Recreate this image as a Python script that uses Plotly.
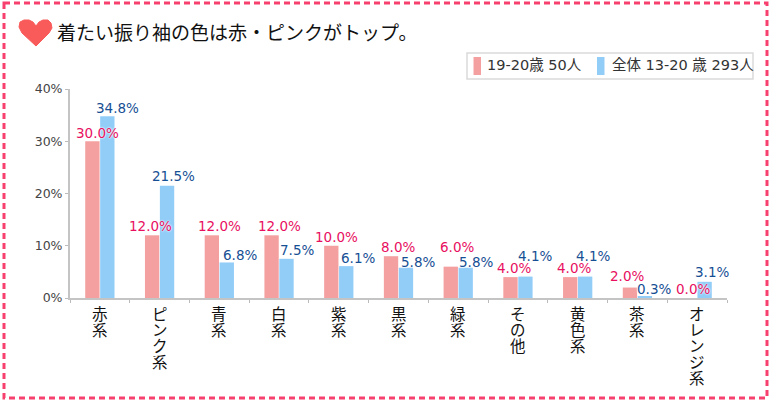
import plotly.graph_objects as go

title = "着たい振り袖の色は赤・ピンクがトップ。"
categories = ["赤系", "ピンク系", "青系", "白系", "紫系", "黒系", "緑系", "その他", "黄色系", "茶系", "オレンジ系"]
series_a_name = "19-20歳 50人"
series_b_name = "全体 13-20 歳 293人"
series_a = [30.0, 12.0, 12.0, 12.0, 10.0, 8.0, 6.0, 4.0, 4.0, 2.0, 0.0]
series_b = [34.8, 21.5, 6.8, 7.5, 6.1, 5.8, 5.8, 4.1, 4.1, 0.3, 3.1]
y_ticks = [0, 10, 20, 30, 40]

W, H = 770, 401
L, R, T, B = 70, 727, 89, 298
PINK, BLUE = "#F4A0A0", "#92CDF8"
CJK = "Noto Sans CJK JP"
LATIN = "DejaVu Sans, Noto Sans CJK JP"


def px(x):
    return (x - L) / (R - L)


def py(y):
    return (B - y) / (B - T)


# label nudges relative to the category centre (pixels)
a_dx = [-2, -9, 0, 0, -2, -1, -1, -4, -4, -10, -4]
b_dx = [18, 14, 21, 18, 19, 19, 18, 17, 15, 17, 15]
a_dy = [8, 9, 9, 9, 9, 9, 20, 9, 9, 12, 9]
b_dy = [8, 10, 7, 9, 8, 6, 6, 21, 21, 7, 10]

fig = go.Figure()
for name, vals, col in ((series_a_name, series_a, PINK), (series_b_name, series_b, BLUE)):
    fig.add_bar(x=categories, y=vals, name=name, marker=dict(color=col, line=dict(width=0)))

ann = []
for i, c in enumerate(categories):
    for vals, dx, dy, col in ((series_a, a_dx, a_dy, "#E8105F"), (series_b, b_dx, b_dy, "#164F94")):
        ann.append(dict(x=c, y=vals[i], xref="x", yref="y", xshift=dx[i], yshift=dy[i],
                        text=f"{vals[i]:.1f}%", showarrow=False, xanchor="center", yanchor="middle",
                        font=dict(family=LATIN, size=13.5, color=col, shadow="0 0 2px white, 0 0 2px white"),
                        ))
    for j, ch in enumerate(c):
        ann.append(dict(x=c, y=0, xref="x", yref="y", yshift=-(14 + 16 * j) - 1, text=ch, showarrow=False,
                        xanchor="center", yanchor="middle", font=dict(family=CJK, size=15.5, color="#111")))

# legend
ann.append(dict(x=px(484.5), y=py(65.5), xref="paper", yref="paper", text=series_a_name, showarrow=False,
                xanchor="left", yanchor="middle", font=dict(family=LATIN, size=14.5, color="#333")))
ann.append(dict(x=px(609.5), y=py(65.5), xref="paper", yref="paper", text=series_b_name, showarrow=False,
                xanchor="left", yanchor="middle", font=dict(family=LATIN, size=14.5, color="#333")))


def rect(x0, y0, x1, y1, **kw):
    return dict(type="rect", xref="paper", yref="paper", x0=px(x0), x1=px(x1), y0=py(y0), y1=py(y1), **kw)


heart_pts = [(36, 46), (22, 33), (19, 27), (20, 22), (24, 20), (29, 20), (33, 22), (36, 26), (39, 22), (43, 20),
             (48, 20), (51, 23), (52, 28), (49, 33)]
heart = "M" + " L".join(f"{px(a):.5f},{py(b):.5f}" for a, b in heart_pts) + " Z"

shapes = [
    rect(4, 3, 767, 398, line=dict(color="#F8406E", width=3, dash="6px,4px"), fillcolor="rgba(0,0,0,0)", layer="below"),
    rect(467, 53, 753, 79, line=dict(color="#DADADA", width=1.5), fillcolor="white"),
    rect(473.5, 57, 481, 75, line=dict(width=0), fillcolor=PINK),
    rect(597, 57, 604.5, 75, line=dict(width=0), fillcolor=BLUE),
    dict(type="path", xref="paper", yref="paper", path=heart, fillcolor="#F95B5B", line=dict(color="#F95B5B", width=1)),
]

fig.update_layout(
    width=W, height=H,
    margin=dict(l=L, r=W - R, t=T, b=H - B, pad=0),
    paper_bgcolor="white", plot_bgcolor="white",
    showlegend=False,
    barmode="group", bargap=0.5, bargroupgap=0.04,
    title=dict(text=title, x=57 / W, xanchor="left", xref="container", y=1 - 33 / H, yanchor="middle",
               font=dict(family=CJK, size=19, color="#111")),
    annotations=ann, shapes=shapes,
    xaxis=dict(type="category", categoryorder="array", categoryarray=categories, range=[-0.5, len(categories) - 0.5],
               showticklabels=False, tickson="boundaries", ticks="outside", ticklen=3, tickcolor="#BBBBBB",
               showline=True, linecolor="#C4C4C4", linewidth=2, showgrid=False, zeroline=False),
    yaxis=dict(range=[0, 40], tickvals=y_ticks, ticktext=[f"{v}%" for v in y_ticks],
               ticks="outside", ticklen=3, tickcolor="#BBBBBB",
               tickfont=dict(family=LATIN, size=12.5, color="#444"),
               showline=True, linecolor="#C4C4C4", linewidth=2, showgrid=False, zeroline=False),
)

fig.write_html("out.html", config=dict(displayModeBar=False),
               post_script="document.body.style.margin='0';document.body.style.overflow='hidden';")
